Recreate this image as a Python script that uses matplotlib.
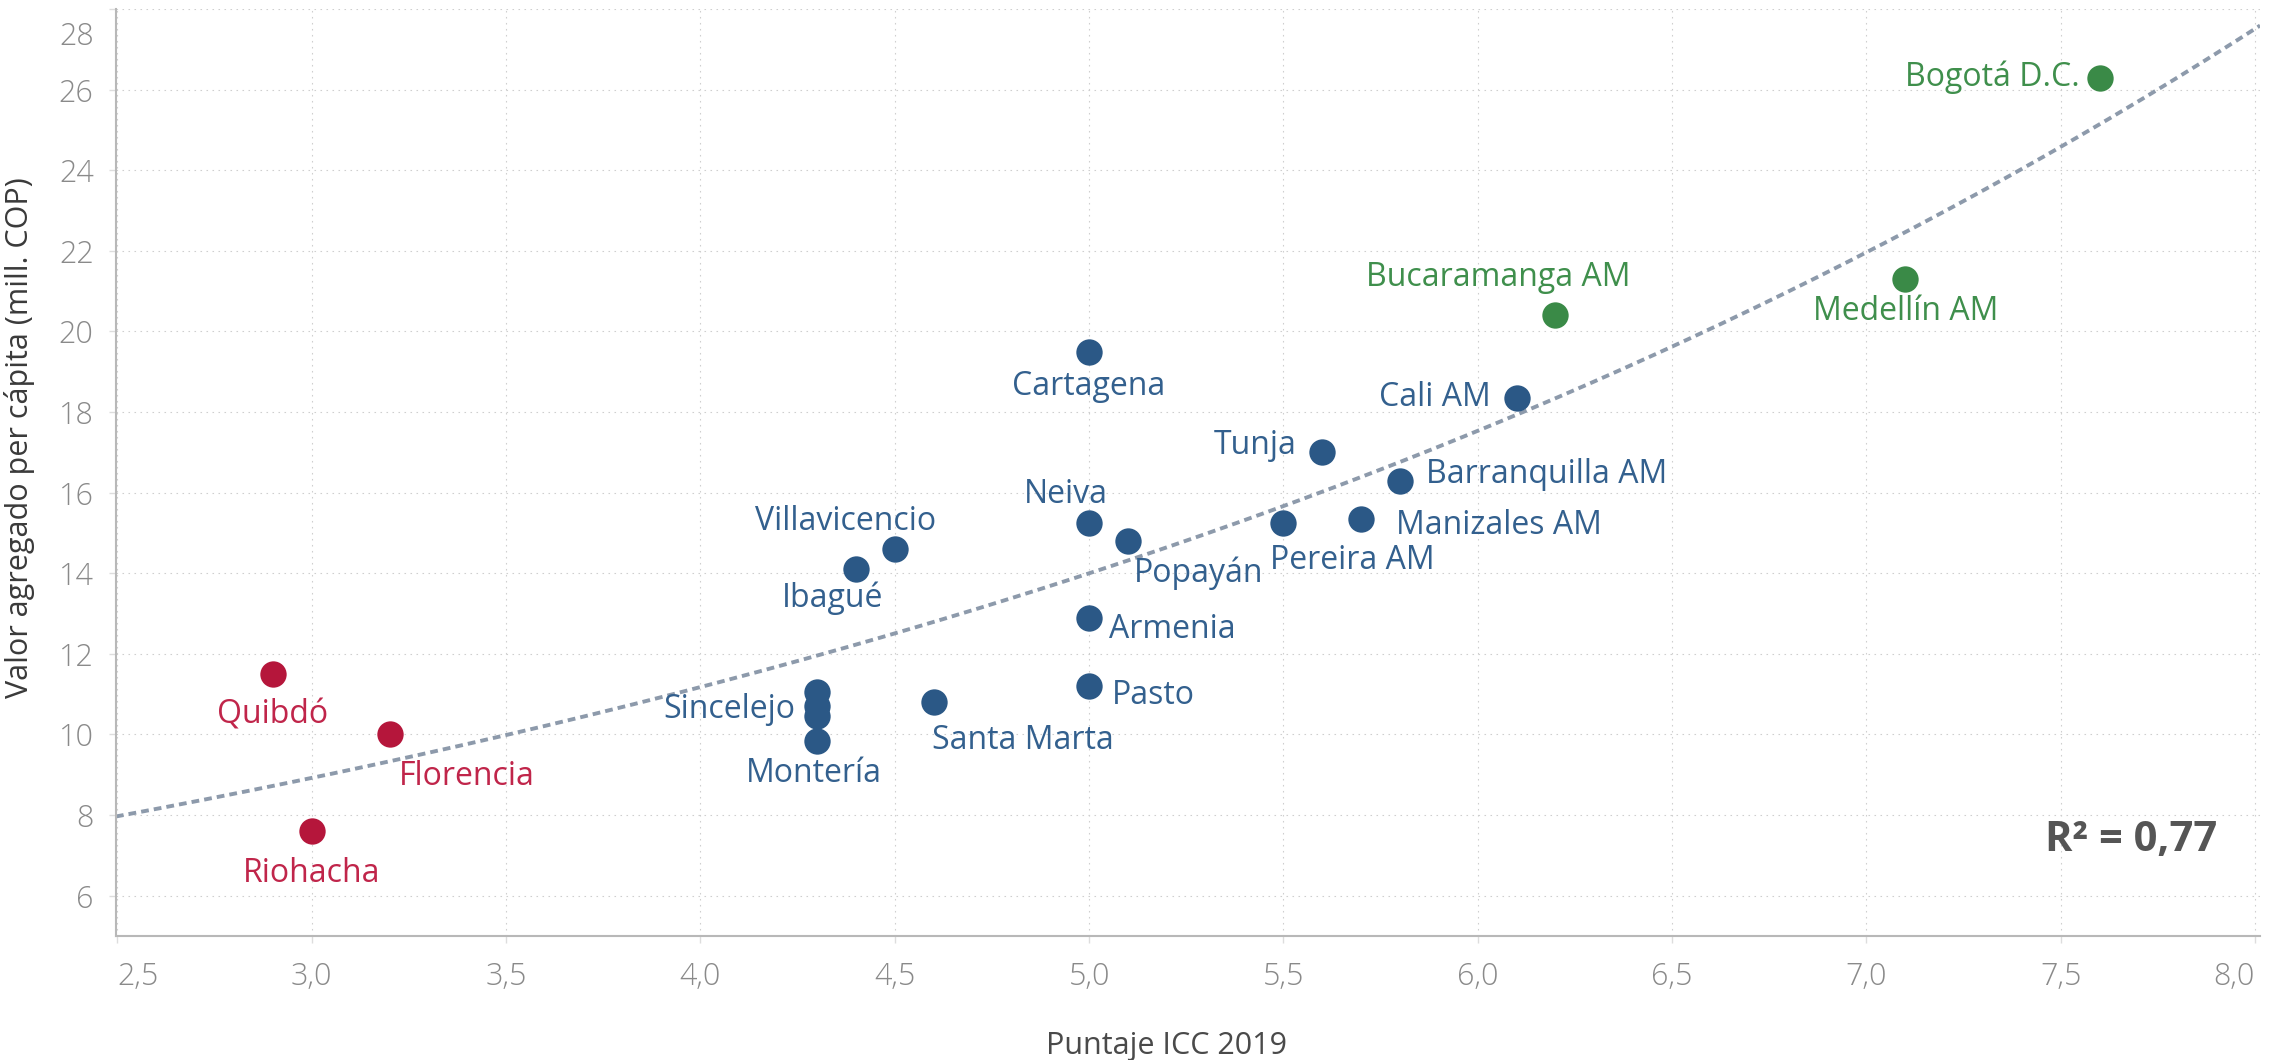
import matplotlib
matplotlib.use("Agg")
import matplotlib.pyplot as plt
from matplotlib.transforms import ScaledTranslation
import numpy as np

# Datos: puntaje ICC 2019 vs valor agregado per cápita (mill. COP)
ciudades = ["Bogotá D.C.", "Medellín AM", "Bucaramanga AM", "Cali AM", "Cartagena",
            "Tunja", "Barranquilla AM", "Neiva", "Popayán", "Pereira AM",
            "Manizales AM", "Villavicencio", "Ibagué", "Armenia", "Pasto",
            "Santa Marta", "", "Sincelejo", "", "Montería",
            "Quibdó", "Florencia", "Riohacha"]
icc = [7.6, 7.1, 6.2, 6.1, 5.0,
       5.6, 5.8, 5.0, 5.1, 5.5,
       5.7, 4.5, 4.4, 5.0, 5.0,
       4.6, 4.3, 4.3, 4.3, 4.3,
       2.9, 3.2, 3.0]
valor = [26.3, 21.3, 20.4, 18.35, 19.5,
         17.0, 16.3, 15.25, 14.8, 15.25,
         15.35, 14.6, 14.1, 12.9, 11.2,
         10.8, 11.05, 10.7, 10.45, 9.85,
         11.5, 10.0, 7.6]
grupo = ["alto", "alto", "alto", "medio", "medio",
         "medio", "medio", "medio", "medio", "medio",
         "medio", "medio", "medio", "medio", "medio",
         "medio", "medio", "medio", "medio", "medio",
         "bajo", "bajo", "bajo"]

x_ticks = [2.5, 3.0, 3.5, 4.0, 4.5, 5.0, 5.5, 6.0, 6.5, 7.0, 7.5, 8.0]
y_ticks = [6, 8, 10, 12, 14, 16, 18, 20, 22, 24, 26, 28]
r2_texto = "R² = 0,77"

colores = {"alto": "#3a8a47", "medio": "#2b5886", "bajo": "#b5163b"}
colores_texto = {"alto": "#3f8f4c", "medio": "#33608e", "bajo": "#c0254a"}

# posición de cada etiqueta respecto a su punto (pixeles) y alineación
etiquetas = {
    "Bogotá D.C.": (-20, 0, "right"),
    "Medellín AM": (0, -32, "center"),
    "Bucaramanga AM": (-57, 38, "center"),
    "Cali AM": (-26, 0, "right"),
    "Cartagena": (0, -35, "center"),
    "Tunja": (-26, 7, "right"),
    "Barranquilla AM": (26, 6, "left"),
    "Neiva": (-23, 28, "center"),
    "Popayán": (6, -32, "left"),
    "Pereira AM": (-13, -38, "left"),
    "Manizales AM": (35, -7, "left"),
    "Villavicencio": (-49, 28, "center"),
    "Ibagué": (-23, -29, "center"),
    "Armenia": (20, -12, "left"),
    "Pasto": (23, -9, "left"),
    "Santa Marta": (89, -38, "center"),
    "Sincelejo": (-22, -3, "right"),
    "Montería": (-3, -33, "center"),
    "Quibdó": (0, -41, "center"),
    "Florencia": (9, -42, "left"),
    "Riohacha": (0, -42, "center"),
}

fig = plt.figure(figsize=(22.82, 10.6), dpi=100)
ax = fig.add_axes([0.0508, 0.117, 0.9396, 0.8745])

ax.set_xlim(2.496, 8.013)
ax.set_ylim(5.0, 28.0)

# Grilla punteada
ax.set_xticks(x_ticks)
ax.set_yticks(y_ticks)
ax.grid(True, color="#cfcfcf", linewidth=0.8, linestyle=(0, (1.4, 4)))
ax.set_axisbelow(True)

for s in ["top", "right"]:
    ax.spines[s].set_visible(False)
for s in ["left", "bottom"]:
    ax.spines[s].set_color("#b8b8b8")
    ax.spines[s].set_linewidth(1.5)

# Linea de tendencia exponencial (ajuste sobre log)
xs = np.array(icc)
ys = np.array(valor)
b, a = np.polyfit(xs, np.log(ys), 1)
xt = np.linspace(2.496, 8.013, 200)
ax.plot(xt, np.exp(a + b * xt), color="#8d9aab", linewidth=2.8,
        linestyle=(0, (2.0, 1.3)), zorder=2)

# Puntos
for g in ["medio", "bajo", "alto"]:
    idx = [i for i, gg in enumerate(grupo) if gg == g]
    ax.scatter(xs[idx], ys[idx], s=360, color=colores[g], linewidths=0, zorder=3)

# Etiquetas
for nombre, xv, yv, g in zip(ciudades, icc, valor, grupo):
    if not nombre:
        continue
    dx, dy, ha = etiquetas[nombre]
    ax.annotate(nombre, (xv, yv), xytext=(dx, dy), textcoords="offset pixels",
                ha=ha, va="center", fontsize=23, family="Open Sans",
                color=colores_texto[g], zorder=4)

# Ejes
ax.set_xticklabels([f"{v:.1f}".replace(".", ",") for v in x_ticks])
ax.set_yticklabels([str(v) for v in y_ticks])
ax.tick_params(axis="both", colors="#dddddd", labelcolor="#8a8a8a",
               labelsize=22, length=5, width=1)
ax.tick_params(axis="x", pad=13)
ax.tick_params(axis="y", pad=11)
for t in ax.get_xticklabels() + ax.get_yticklabels():
    t.set_family("Open Sans")
    t.set_fontweight("light")
xl = ax.get_xticklabels()
xl[0].set_ha("left")
xl[-1].set_ha("right")
top_lbl = ax.get_yticklabels()[-1]
top_lbl.set_transform(top_lbl.get_transform() + ScaledTranslation(0, -0.24, fig.dpi_scale_trans))

ax.set_xlabel("Puntaje ICC 2019", fontsize=22, family="Open Sans", color="#4a4a4a")
ax.xaxis.set_label_coords(0.49, -0.102)
ax.xaxis.label.set_va("top")
ax.set_ylabel("Valor agregado per cápita (mill. COP)", fontsize=22,
              family="Open Sans", color="#3a3a3a")
ax.yaxis.set_label_coords(-0.0378, 0.538)

ax.text(0.980, 0.1025, r2_texto, transform=ax.transAxes, ha="right", va="center",
        fontsize=30, fontweight="bold", family="Open Sans", color="#555555")

fig.savefig("out.png", dpi=100)
